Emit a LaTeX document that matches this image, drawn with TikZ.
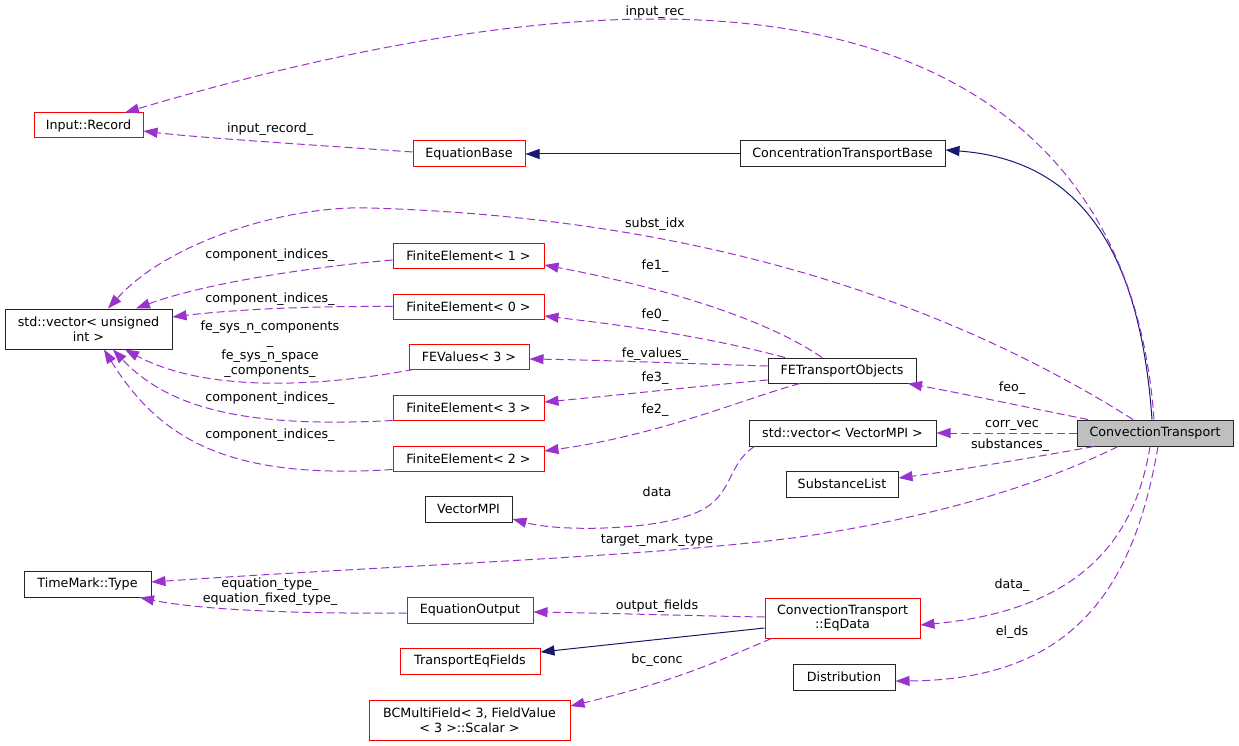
\documentclass[tikz,border=0pt]{standalone}
\usepackage{fontspec}
\setmainfont{DejaVu Sans}
\usetikzlibrary{arrows.meta}
\definecolor{dep}{HTML}{9A32CD}
\definecolor{inhc}{HTML}{191970}
\definecolor{hl}{HTML}{BFBFBF}
\tikzset{
  bx/.style={draw=black!85, line width=1pt, inner sep=0pt, align=center, font=\fontsize{12.7}{14.7}\selectfont, minimum height=26pt},
  redbx/.style={bx, draw=red},
  hlbx/.style={bx, fill=hl},
  lbl/.style={inner sep=0pt, align=center, font=\fontsize{12.7}{14.7}\selectfont},
  depe/.style={draw=dep, line width=1pt, dash pattern=on 8pt off 4pt, -{Triangle[length=14pt,width=10pt,fill=dep]}},
  inhe/.style={draw=inhc, line width=1pt, -{Triangle[length=14pt,width=10pt,fill=inhc]}}
}
\begin{document}
\begin{tikzpicture}[x=1pt,y=-1pt]
\useasboundingbox (0,0) rectangle (1239,746);
% nodes
\node[redbx, minimum width=109pt, minimum height=25pt] (ir) at (88.5,125.5) {Input::Record};
\node[redbx, minimum width=112pt] (eb) at (469,154) {EquationBase};
\node[bx, minimum width=205pt] (ctb) at (842.5,154) {ConcentrationTransportBase};
\node[bx, minimum width=167pt, minimum height=40pt] (vui) at (88.5,329) {std::vector< unsigned\\int >};
\node[redbx, minimum width=151pt, minimum height=25pt] (fe1) at (468.5,255.5) {FiniteElement< 1 >};
\node[redbx, minimum width=151pt, minimum height=25pt] (fe0) at (468.5,306.5) {FiniteElement< 0 >};
\node[redbx, minimum width=120pt, minimum height=25pt] (fev) at (469,356.5) {FEValues< 3 >};
\node[redbx, minimum width=151pt, minimum height=25pt] (fe3) at (468.5,407.5) {FiniteElement< 3 >};
\node[redbx, minimum width=151pt, minimum height=25pt] (fe2) at (468.5,458.5) {FiniteElement< 2 >};
\node[bx, minimum width=148pt, minimum height=25pt] (feto) at (842,370.5) {FETransportObjects};
\node[bx, minimum width=187pt] (vmpi) at (842.5,433) {std::vector< VectorMPI >};
\node[hlbx, minimum width=156pt] (ct) at (1155,433) {ConvectionTransport};
\node[bx, minimum width=112pt] (sl) at (842,484) {SubstanceList};
\node[bx, minimum width=87pt] (vm) at (468.5,509) {VectorMPI};
\node[bx, minimum width=127pt] (tm) at (87.5,584) {TimeMark::Type};
\node[redbx, minimum width=126pt] (eo) at (470,610) {EquationOutput};
\node[redbx, minimum width=140pt] (tef) at (470,661) {TransportEqFields};
\node[redbx, minimum width=201pt, minimum height=40pt] (bc) at (469.5,720) {BCMultiField< 3, FieldValue\\< 3 >::Scalar >};
\node[redbx, minimum width=155pt, minimum height=40pt] (eq) at (842.5,618) {ConvectionTransport\\::EqData};
\node[bx, minimum width=102pt] (dist) at (844,677) {Distribution};
% inheritance
\draw[inhe] (ctb.west) -- (eb.east);
\draw[inhe] ([xshift=-3pt]ct.north) .. controls (1140,250) and (1080,160) .. ([yshift=4pt]ctb.east);
\draw[inhe] ([yshift=-10pt]eq.west) -- ([yshift=9pt]tef.east);
% dependencies
\draw[depe] ([xshift=-1pt]ct.north) .. controls (1135,150) and (950,19) .. (655,19) .. controls (450,19) and (225,83) .. ([xshift=36.5pt]ir.north);
\draw[depe] ([yshift=2pt]eb.west) .. controls (330,146) and (200,138) .. ([yshift=-5.5pt]ir.east);
\draw[depe] ([xshift=-22pt]ct.north) .. controls (880,260) and (600,215) .. (370,208) .. controls (290,205) and (170,240) .. ([xshift=19.5pt]vui.north);
\draw[depe] ([yshift=-4.5pt]fe1.west) .. controls (300,268) and (200,285) .. ([xshift=47.5pt]vui.north);
\draw[depe] (fe0.west) .. controls (300,306) and (230,310) .. ([yshift=12pt]vui.east);
\draw[depe] ([xshift=5pt]fev.south west) .. controls (330,385) and (210,395) .. ([xshift=36.5pt]vui.south);
\draw[depe] (fe3.south west) .. controls (250,428) and (170,410) .. ([xshift=24.5pt]vui.south);
\draw[depe] ([yshift=2pt]fe2.south west) .. controls (230,480) and (160,440) .. ([xshift=15.5pt]vui.south);
\draw[depe] ([xshift=-20pt]feto.north) .. controls (760,315) and (650,285) .. ([yshift=-9.5pt]fe1.east);
\draw[depe] ([xshift=-57pt]feto.north) .. controls (700,335) and (620,325) .. ([yshift=-9.5pt]fe0.east);
\draw[depe] ([yshift=4.5pt]feto.west) .. controls (700,364) and (600,360) .. ([yshift=-2.5pt]fev.east);
\draw[depe] ([yshift=-9.5pt]feto.west) .. controls (700,386) and (620,395) .. ([yshift=5.5pt]fe3.east);
\draw[depe] ([xshift=-42pt]feto.south) .. controls (740,400) and (660,435) .. ([yshift=7.5pt]fe2.east);
\draw[depe] ([xshift=-67pt]ct.north) .. controls (1030,408) and (970,395) .. ([xshift=66pt]feto.south);
\draw[depe] (ct.west) -- (vmpi.east);
\draw[depe] ([xshift=-61pt]ct.south) .. controls (1030,458) and (960,470) .. ([yshift=6pt]sl.east);
\draw[depe] ([xshift=6pt]vmpi.south west) .. controls (725,465) and (735,500) .. (690,515) .. controls (650,530) and (560,532) .. ([yshift=-10pt]vm.east);
\draw[depe] ([xshift=-37pt]ct.south) .. controls (1050,480) and (950,515) .. (800,537) .. controls (650,557) and (400,565) .. ([yshift=2pt]tm.east);
\draw[depe] ([yshift=-3pt]eo.west) .. controls (300,614) and (200,610) .. ([xshift=52.5pt]tm.south);
\draw[depe] ([yshift=1pt]eq.west) .. controls (700,616) and (600,613) .. ([yshift=-2pt]eo.east);
\draw[depe] ([xshift=7pt]eq.south west) .. controls (720,660) and (680,680) .. ([yshift=14pt]bc.east);
\draw[depe] ([xshift=-5pt]ct.south) .. controls (1135,540) and (1080,610) .. ([yshift=-7pt]eq.east);
\draw[depe] ([xshift=3pt]ct.south) .. controls (1135,580) and (1080,680) .. ([yshift=-4pt]dist.east);
% labels
\node[lbl] (l1) at (655,12) {input\_rec};
\node[lbl] (l2) at (270,129) {input\_record\_};
\node[lbl] (l3) at (655,224) {subst\_idx};
\node[lbl] (l4) at (270,255) {component\_indices\_};
\node[lbl] (l5) at (270,299) {component\_indices\_};
\node[lbl] (l6) at (270,349) {fe\_sys\_n\_components\\\_\\fe\_sys\_n\_space\hspace*{50pt}\\\_components\_};
\node[lbl] (l7) at (270,398) {component\_indices\_};
\node[lbl] (l8) at (270,435) {component\_indices\_};
\node[lbl] (l9) at (655,266) {fe1\_};
\node[lbl] (l10) at (655,315) {fe0\_};
\node[lbl] (l11) at (655,354) {fe\_values\_};
\node[lbl] (l12) at (655,378) {fe3\_};
\node[lbl] (l13) at (655,410) {fe2\_};
\node[lbl] (l14) at (1012,388) {feo\_};
\node[lbl] (l15) at (1012,425) {corr\_vec};
\node[lbl] (l16) at (1010,445) {substances\_};
\node[lbl] (l17) at (657,492) {data};
\node[lbl] (l18) at (657,540) {target\_mark\_type};
\node[lbl] (l19) at (270,592) {equation\_type\_\\equation\_fixed\_type\_};
\node[lbl] (l20) at (657,606) {output\_fields};
\node[lbl] (l21) at (657,660) {bc\_conc};
\node[lbl] (l22) at (1012,585) {data\_};
\node[lbl] (l23) at (1012,632) {el\_ds};
\end{tikzpicture}
\end{document}
